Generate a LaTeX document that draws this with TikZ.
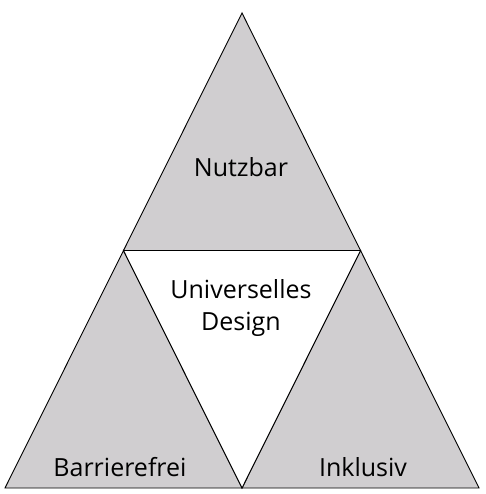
\documentclass[tikz,border=0pt]{standalone}
\usepackage{fontspec}
\setmainfont{Open Sans}
\usepackage{tikz}
\usetikzlibrary{positioning}

\definecolor{triGray}{HTML}{D0CED0}

\begin{document}
\begin{tikzpicture}[x=1pt, y=-1pt,
    tri/.style={draw=black, line width=0.9pt, line join=miter, fill=triGray},
    hole/.style={draw=black, line width=0.9pt, fill=white},
    lbl/.style={font=\fontsize{25}{32}\selectfont, align=center, inner sep=0pt}]
  \useasboundingbox (0,0) rectangle (485,494);
  % corners and midpoints
  \coordinate (top) at (242,13);
  \coordinate (bl) at (5,488);
  \coordinate (br) at (479,488);
  \coordinate (ml) at (123.5,250.5);
  \coordinate (mr) at (360.5,250.5);
  \coordinate (mb) at (242,488);
  % outer triangles
  \draw[tri] (top) -- (mr) -- (ml) -- cycle;
  \draw[tri] (ml) -- (mb) -- (bl) -- cycle;
  \draw[tri] (mr) -- (br) -- (mb) -- cycle;
  \draw[hole] (ml) -- (mr) -- (mb) -- cycle;
  % labels
  \node[lbl] (nutz) at (241,167) {Nutzbar};
  \node[lbl] (ud) at (241,308) {Universelles\\Design};
  \node[lbl] (barr) at (120,467) {Barrierefrei};
  \node[lbl] (inkl) at (363,467) {Inklusiv};
\end{tikzpicture}
\end{document}
